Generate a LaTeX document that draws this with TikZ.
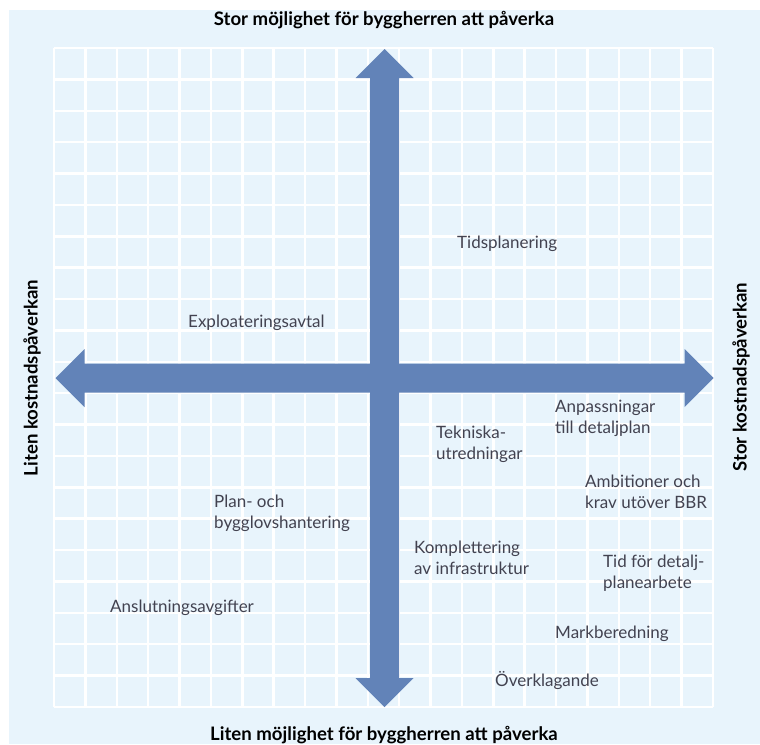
\documentclass[tikz,border=0pt]{standalone}
\usepackage{fontspec}
\setmainfont{Lato}
\definecolor{bgblue}{RGB}{232,244,252}
\definecolor{arrowblue}{RGB}{98,131,184}
\definecolor{labelgray}{RGB}{66,66,80}

\begin{document}
\begin{tikzpicture}[x=1pt,y=-1pt,
	item/.style={anchor=west,align=left,text=labelgray,inner sep=0pt,font=\fontsize{17}{21}\selectfont},
	axistitle/.style={inner sep=0pt,font=\fontsize{18.6}{22}\selectfont\bfseries}]
		
		%Grid size
		\def\cell{31.38}
		\def\cells{21}
		
		%Arrow sizes
		\def\shaft{14.5}
		\def\head{29}
		\def\reach{300}
		\def\tip{329}
		
		%Marking coordinates
		\coordinate (G0) at (54,48);
		\coordinate (G1) at (713,707);
		\coordinate (O) at (384.5,378);
		
		%Background
		\useasboundingbox (0,0) rectangle (760,744);
		\fill[bgblue] (9,10) rectangle (760,744);
		
		%Drawing the grid
		\foreach \i in {0,...,\cells}{
			\draw[white,line width=2.5pt] (54+\i*\cell,48) -- (54+\i*\cell,707);
			\draw[white,line width=2.5pt] (54,48+\i*\cell) -- (713,48+\i*\cell);
		}
		
		%Drawing the arrows
		\fill[arrowblue,shift={(O)}] (-\shaft,-\reach) -- (-\head,-\reach) -- (0,-\tip) -- (\head,-\reach) -- (\shaft,-\reach)
			-- (\shaft,\reach) -- (\head,\reach) -- (0,\tip) -- (-\head,\reach) -- (-\shaft,\reach) -- cycle;
		\fill[arrowblue,shift={(O)}] (-\reach,-\shaft) -- (-\reach,-\head) -- (-\tip,0) -- (-\reach,\head) -- (-\reach,\shaft)
			-- (\reach,\shaft) -- (\reach,\head) -- (\tip,0) -- (\reach,-\head) -- (\reach,-\shaft) -- cycle;
		
		%Axis titles
		\node[axistitle] (top) at (384,20) {Stor möjlighet för byggherren att påverka};
		\node[axistitle] (bottom) at (384,735) {Liten möjlighet för byggherren att påverka};
		\node[axistitle,rotate=90] (left) at (32,378) {Liten kostnadspåverkan};
		\node[axistitle,rotate=90] (right) at (741,377) {Stor kostnadspåverkan};
		
		%Placing the factors
		\node[item] (tids) at (457,244) {Tidsplanering};
		\node[item] (expl) at (188,323) {Exploateringsavtal};
		\node[item] (anpa) at (555,418) {Anpassningar\\till detaljplan};
		\node[item] (tekn) at (436,444) {Tekniska-\\utredningar};
		\node[item] (ambi) at (585,492) {Ambitioner och\\krav utöver BBR};
		\node[item] (plan) at (214,513) {Plan- och\\bygglovshantering};
		\node[item] (komp) at (414,558) {Komplettering\\av infrastruktur};
		\node[item] (tidf) at (603,573) {Tid för detalj-\\planearbete};
		\node[item] (ansl) at (110,608) {Anslutningsavgifter};
		\node[item] (mark) at (555,634) {Markberedning};
		\node[item] (over) at (495,680) {Överklagande};
	\end{tikzpicture}
\end{document}
